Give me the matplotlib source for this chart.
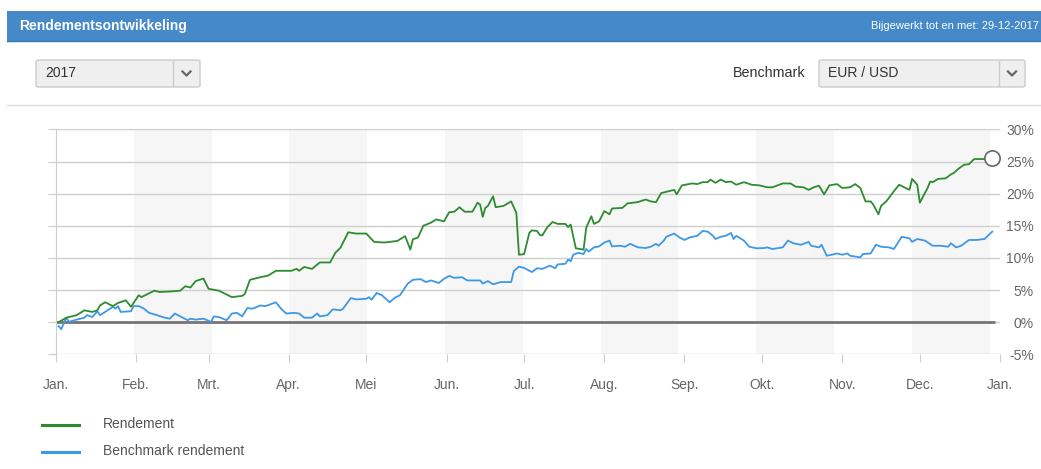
import numpy as np
import matplotlib
matplotlib.use("Agg")
import matplotlib.pyplot as plt
from matplotlib.patches import Rectangle, FancyBboxPatch
from matplotlib.lines import Line2D

plt.rcParams['font.family'] = ['Liberation Sans', 'DejaVu Sans']

# day of year (0 = 1 jan) and return in %
rendement_days = [1, 4, 8, 11, 14, 16, 17, 19, 22, 24, 27, 29, 32, 33, 38, 40, 45, 48, 50, 52,
                  54, 57, 59, 63, 68, 72, 73, 75, 79, 82, 85, 91, 93, 94, 96, 99, 102, 106, 108, 110,
                  111, 113, 116, 120, 123, 127, 129, 132, 135, 137, 138, 140, 142, 145, 147, 150, 152, 154, 156, 158,
                  161, 163, 164, 165, 166, 167, 169, 170, 173, 176, 178, 179, 181, 183, 184, 186, 187, 188, 190, 192,
                  194, 197, 198, 199, 201, 204, 205, 207, 208, 210, 212, 214, 215, 219, 221, 225, 228, 230, 232, 234,
                  237, 239, 240, 242, 246, 248, 250, 252, 253, 255, 257, 259, 261, 263, 266, 269, 272, 275, 277, 281,
                  284, 286, 289, 291, 293, 295, 297, 299, 302, 304, 307, 309, 311, 313, 315, 316, 318, 319, 321, 324,
                  326, 330, 331, 333, 334, 337, 338, 339, 341, 344, 346, 347, 349, 351, 353, 355, 359, 362]
rendement = [0.0, 0.7, 1.1, 1.85, 1.6, 1.85, 2.6, 3.1, 2.5, 3.0, 3.4, 2.4, 4.2, 3.9, 4.9, 4.7, 4.8, 4.9, 5.6, 5.4,
             6.4, 6.8, 5.2, 4.9, 3.9, 4.1, 4.4, 6.6, 7.0, 7.25, 8.0, 8.0, 8.3, 8.0, 8.6, 8.3, 9.3, 9.3, 10.8, 11.6,
             12.4, 14.0, 13.8, 13.8, 12.5, 12.4, 12.5, 12.65, 13.4, 11.3, 12.9, 13.2, 15.0, 15.5, 16.0, 15.7, 17.1, 17.2, 17.9, 17.2,
             17.2, 18.6, 18.3, 16.4, 17.8, 18.1, 19.6, 17.9, 18.1, 18.8, 17.0, 10.5, 10.6, 13.9, 14.3, 14.2, 13.6, 13.5, 14.8, 15.6,
             15.3, 15.3, 14.8, 15.2, 11.5, 11.3, 14.7, 16.5, 15.3, 15.7, 17.3, 16.8, 17.7, 17.8, 18.5, 18.7, 19.1, 18.8, 18.7, 20.1,
             20.4, 20.6, 19.9, 21.3, 21.6, 21.5, 21.8, 21.8, 22.2, 21.7, 22.2, 21.8, 21.9, 21.4, 21.8, 21.4, 21.3, 21.0, 21.0, 21.6,
             21.6, 21.1, 21.0, 20.6, 21.0, 21.25, 19.9, 21.3, 21.5, 20.9, 21.0, 21.5, 20.9, 18.8, 18.8, 18.3, 16.8, 18.1, 18.8, 20.4,
             21.4, 20.6, 22.3, 21.4, 18.6, 20.9, 21.9, 21.8, 22.3, 22.4, 23.0, 23.2, 23.9, 24.5, 24.6, 25.4, 25.4, 25.5]

benchmark_days = [1, 2, 4, 5, 8, 11, 12, 14, 16, 17, 19, 22, 23, 24, 25, 29, 30, 32, 34, 36,
                  39, 42, 44, 46, 48, 51, 52, 54, 57, 60, 61, 63, 66, 68, 70, 72, 74, 76, 79, 81,
                  85, 87, 89, 92, 94, 96, 99, 101, 102, 105, 107, 110, 111, 114, 116, 120, 121, 122, 124, 126,
                  129, 131, 133, 134, 136, 138, 141, 143, 145, 148, 150, 152, 154, 157, 159, 164, 165, 167, 169, 172,
                  176, 177, 179, 181, 184, 186, 188, 191, 193, 194, 197, 198, 199, 200, 202, 204, 205, 206, 208, 210,
                  212, 214, 215, 218, 220, 222, 225, 228, 230, 232, 233, 235, 236, 239, 241, 243, 245, 248, 250, 252,
                  254, 255, 257, 259, 261, 262, 263, 266, 268, 271, 274, 275, 277, 281, 283, 285, 288, 291, 292, 295,
                  296, 298, 300, 302, 304, 306, 307, 311, 312, 315, 317, 319, 322, 324, 327, 330, 331, 333, 336, 339,
                  342, 345, 346, 348, 350, 353, 356, 359, 362]
benchmark = [-0.6, -1.1, 0.7, 0.05, 0.4, 0.7, 1.1, 0.8, 1.7, 1.1, 1.6, 2.4, 2.1, 2.5, 1.6, 1.7, 2.5, 2.5, 2.1, 1.45,
             1.1, 0.7, 0.55, 1.35, 0.9, 0.3, 0.55, 0.4, 0.55, 0.05, 0.9, 0.8, 0.3, 1.35, 1.45, 0.9, 2.2, 2.1, 2.6, 2.5,
             3.1, 2.1, 1.35, 1.45, 1.35, 0.7, 0.7, 1.35, 0.9, 1.1, 2.0, 1.85, 2.1, 3.75, 3.55, 3.65, 3.9, 3.5, 4.55, 4.2,
             3.1, 3.8, 4.2, 4.8, 6.0, 6.6, 6.7, 6.25, 6.5, 6.1, 6.75, 7.2, 6.9, 7.0, 6.5, 6.5, 6.0, 6.4, 5.9, 6.25,
             6.25, 7.95, 8.65, 8.45, 7.8, 8.4, 8.3, 8.8, 8.4, 9.0, 9.1, 9.75, 9.5, 10.5, 10.8, 10.6, 11.4, 11.0, 11.65, 11.8,
             12.4, 12.7, 11.8, 11.9, 11.75, 12.2, 11.65, 11.55, 11.75, 12.2, 11.9, 12.7, 13.3, 13.8, 13.2, 12.8, 13.2, 13.45, 14.2, 14.1,
             13.45, 12.95, 13.3, 13.45, 13.9, 12.95, 13.45, 12.7, 11.75, 11.5, 11.55, 11.65, 11.4, 11.65, 12.7, 12.3, 12.05, 12.5, 11.9, 11.65,
             12.05, 10.35, 10.5, 10.7, 10.5, 10.7, 10.35, 10.1, 10.6, 10.7, 12.05, 11.75, 11.65, 11.4, 13.3, 13.05, 12.5, 12.95, 12.7, 11.9,
             11.9, 11.75, 12.3, 11.65, 11.9, 12.8, 12.8, 12.95, 14.1]

month_labels = ["Jan.", "Feb.", "Mrt.", "Apr.", "Mei", "Jun.", "Jul.", "Aug.", "Sep.", "Okt.", "Nov.", "Dec.", "Jan."]
month_lengths = [31, 28, 31, 30, 31, 30, 31, 31, 30, 31, 30, 31]
y_ticks = [-5, 0, 5, 10, 15, 20, 25, 30]

W, H = 1041, 469
fig = plt.figure(figsize=(W / 100, H / 100), dpi=100)


def fx(x):
    return x / W


def fy(y):
    return 1 - y / H


# header bar
fig.add_artist(Rectangle((fx(7), fy(41)), fx(W - 7), 30 / H, transform=fig.transFigure,
                         facecolor="#4589c8", edgecolor="none"))
fig.add_artist(Line2D([fx(7), 1], [fy(41), fy(41)], color="#3677b0", lw=1))
fig.text(fx(19), fy(26), "Rendementsontwikkeling", color="white", fontsize=10,
         fontweight="bold", va="center", ha="left")
fig.text(fx(1039), fy(26), "Bijgewerkt tot en met: 29-12-2017", color="white",
         fontsize=8, va="center", ha="right")


def dropdown(x0, x1, xdiv, text):
    fig.add_artist(FancyBboxPatch((fx(x0), fy(87)), fx(x1 - x0), 27 / H,
                                  boxstyle="round,pad=0,rounding_size=0.003",
                                  transform=fig.transFigure, facecolor="#efefef",
                                  edgecolor="#cccccc", lw=1))
    fig.add_artist(Line2D([fx(xdiv), fx(xdiv)], [fy(61), fy(86)], color="#cccccc", lw=1))
    cx = (xdiv + x1) / 2
    fig.add_artist(Line2D([fx(cx - 4), fx(cx), fx(cx + 4)], [fy(71.5), fy(75.5), fy(71.5)],
                          color="#666666", lw=1.6))
    fig.text(fx(x0 + 9), fy(73), text, color="#333333", fontsize=10, va="center", ha="left")


dropdown(36, 200, 173, "2017")
dropdown(819, 1025, 999, "EUR / USD")
fig.text(fx(805), fy(73), "Benchmark", color="#333333", fontsize=10.3, va="center", ha="right")
fig.add_artist(Line2D([fx(7), 1], [fy(105), fy(105)], color="#dddddd", lw=1))

# chart
ax = fig.add_axes([fx(56), fy(354.3), fx(944), (354.3 - 129.5) / H])
ax.set_xlim(0, 365)
ax.set_ylim(-5, 30)

band_w = 30.08
for k in range(1, 12, 2):
    ax.axvspan(k * band_w, (k + 1) * band_w, color="#f6f6f6", lw=0, zorder=0)

for v in y_ticks:
    ax.axhline(v, color="#cfcfcf", lw=1, zorder=1)
ax.hlines(0, 0, rendement_days[-1] + 1, color="#7a7474", lw=2, zorder=2)

ax.plot(rendement_days, rendement, color="#2e8b30", lw=1.3, zorder=4)
ax.plot(benchmark_days, benchmark, color="#3d98e6", lw=1.3, zorder=3)
ax.plot(rendement_days[-1], rendement[-1], "o", ms=11, mfc="white", mec="#666666",
        mew=1.2, zorder=5, clip_on=False)

month_starts = np.concatenate([[0], np.cumsum(month_lengths)])
ax.set_xticks(month_starts)
ax.set_xticklabels(month_labels)
ax.tick_params(axis="x", length=6, color="#cccccc", labelcolor="#666666",
               labelsize=10, pad=11)

ax.set_yticks(y_ticks)
ax.set_yticklabels([f"{v}%" for v in y_ticks], ha="right")
ax.yaxis.set_ticks_position("left")
ax.tick_params(axis="y", length=6, color="#cccccc", labelcolor="#666666", labelsize=10,
               labelleft=False, labelright=True, pad=18.5)

for side in ["top", "right", "bottom"]:
    ax.spines[side].set_visible(False)
ax.spines["left"].set_color("#cccccc")
ax.spines["left"].set_bounds(-5, 30)
ax.set_facecolor("white")

# legend
fig.add_artist(Line2D([fx(42), fx(79)], [fy(425), fy(425)], color="#2e8b30", lw=2.2))
fig.add_artist(Line2D([fx(42), fx(79)], [fy(452), fy(452)], color="#3d98e6", lw=2.2))
fig.text(fx(103), fy(424), "Rendement", color="#555555", fontsize=10, va="center")
fig.text(fx(103), fy(451), "Benchmark rendement", color="#555555", fontsize=10, va="center")

fig.savefig("out.png", dpi=100)
